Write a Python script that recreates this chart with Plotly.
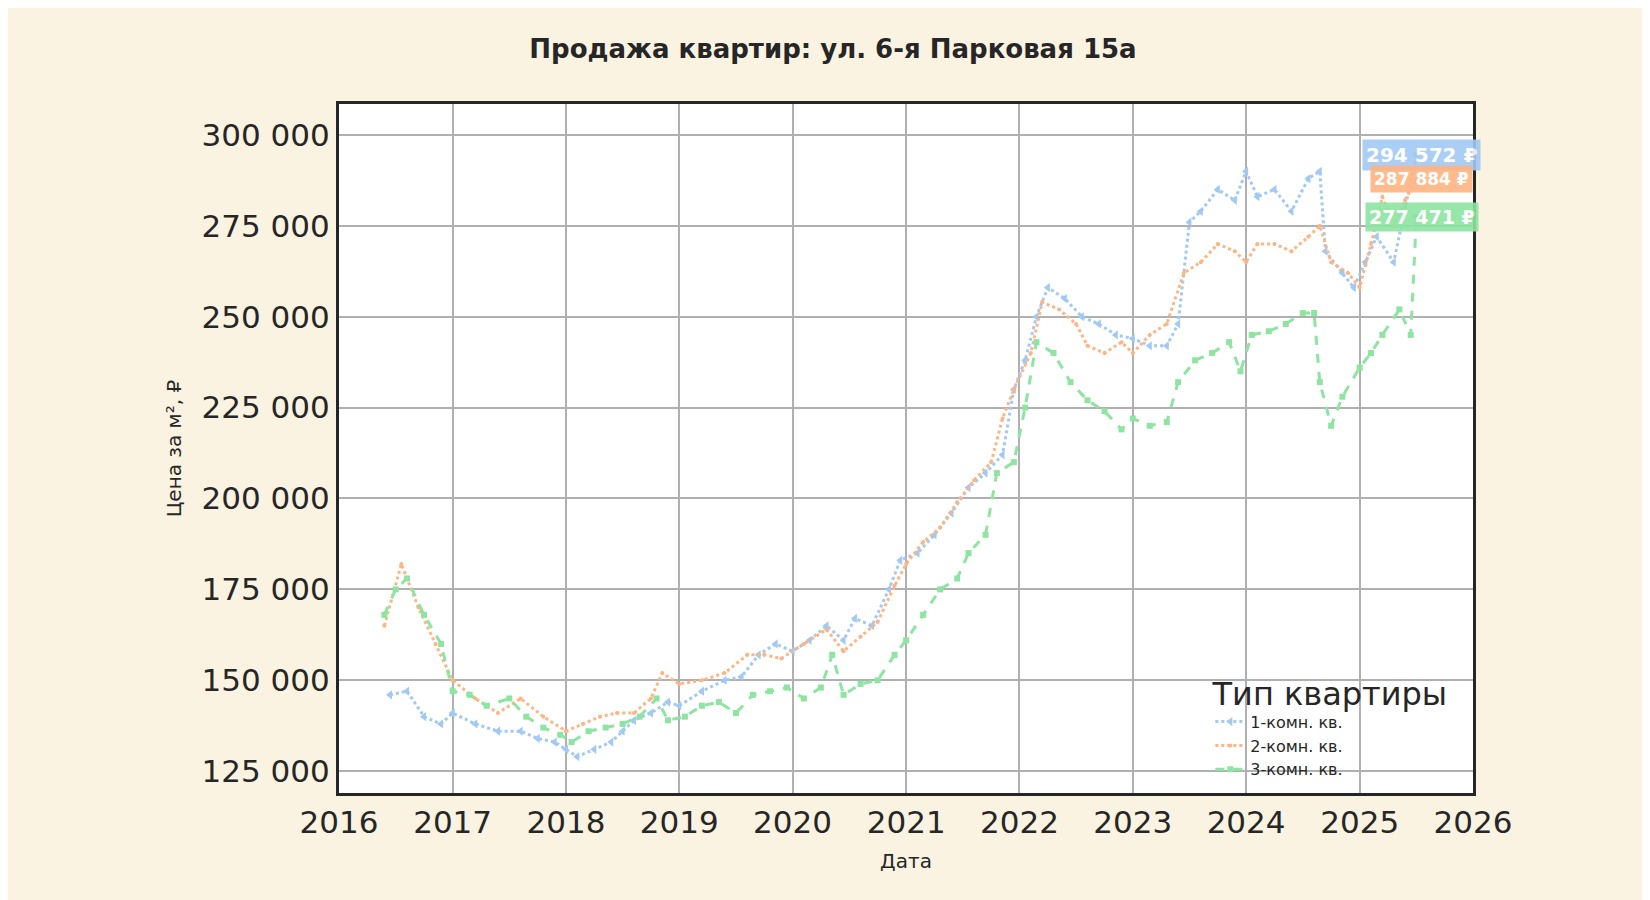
import pandas as pd
import plotly.graph_objects as go

# decimal year -> price per m2 (thousands of rubles)
t1 = [2016.45, 2016.6, 2016.75, 2016.9, 2017.0, 2017.2, 2017.4, 2017.6, 2017.75, 2017.9, 2018.0, 2018.1, 2018.25, 2018.4,
      2018.5, 2018.6, 2018.75, 2018.9, 2019.0, 2019.2, 2019.4, 2019.55, 2019.7, 2019.85, 2020.0, 2020.15, 2020.3, 2020.45,
      2020.55, 2020.7, 2020.85, 2020.95, 2021.1, 2021.25, 2021.4, 2021.55, 2021.7, 2021.85, 2021.95, 2022.05, 2022.15,
      2022.25, 2022.4, 2022.55, 2022.7, 2022.85, 2023.0, 2023.15, 2023.3, 2023.4, 2023.5, 2023.6, 2023.75, 2023.9, 2024.0,
      2024.1, 2024.25, 2024.4, 2024.55, 2024.65, 2024.7, 2024.85, 2024.95, 2025.05, 2025.15, 2025.3, 2025.4, 2025.5]
v1 = [146, 147, 140, 138, 141, 138, 136, 136, 134, 133, 131, 129, 131, 133, 136, 139, 141, 144, 143, 147, 150, 151, 157,
      160, 158, 161, 165, 161, 167, 165, 175, 183, 185, 190, 196, 203, 207, 212, 230, 238, 250, 258, 255, 250, 248, 245,
      244, 242, 242, 248, 276, 279, 285, 282, 290, 283, 285, 279, 288, 290, 268, 262, 258, 265, 272, 265, 280, 294.572]

t2 = [2016.4, 2016.55, 2016.7, 2016.85, 2017.0, 2017.2, 2017.4, 2017.6, 2017.8, 2018.0, 2018.15, 2018.3, 2018.45, 2018.6,
      2018.75, 2018.85, 2019.0, 2019.2, 2019.4, 2019.6, 2019.75, 2019.9, 2020.1, 2020.3, 2020.45, 2020.6, 2020.75, 2020.9,
      2021.0, 2021.15, 2021.3, 2021.45, 2021.6, 2021.75, 2021.85, 2021.95, 2022.1, 2022.2, 2022.35, 2022.5, 2022.6, 2022.75,
      2022.9, 2023.0, 2023.15, 2023.3, 2023.45, 2023.6, 2023.75, 2023.9, 2024.0, 2024.1, 2024.25, 2024.4, 2024.55, 2024.65,
      2024.75, 2024.9, 2025.0, 2025.1, 2025.2, 2025.3, 2025.4, 2025.5]
v2 = [165, 182, 170, 160, 150, 145, 141, 145, 140, 136, 138, 140, 141, 141, 145, 152, 149, 150, 152, 157, 157, 156, 160,
      164, 158, 162, 166, 176, 182, 188, 192, 199, 205, 210, 222, 230, 240, 254, 252, 248, 242, 240, 243, 240, 245, 248,
      262, 265, 270, 268, 265, 270, 270, 268, 272, 275, 265, 262, 258, 270, 283, 275, 282, 287.884]

t3 = [2016.4, 2016.5, 2016.6, 2016.75, 2016.9, 2017.0, 2017.15, 2017.3, 2017.5, 2017.65, 2017.8, 2017.95, 2018.05, 2018.2,
      2018.35, 2018.5, 2018.65, 2018.8, 2018.9, 2019.05, 2019.2, 2019.35, 2019.5, 2019.65, 2019.8, 2019.95, 2020.1, 2020.25,
      2020.35, 2020.45, 2020.6, 2020.75, 2020.9, 2021.0, 2021.15, 2021.3, 2021.45, 2021.55, 2021.7, 2021.8, 2021.95, 2022.05,
      2022.15, 2022.3, 2022.45, 2022.6, 2022.75, 2022.9, 2023.0, 2023.15, 2023.3, 2023.4, 2023.55, 2023.7, 2023.85, 2023.95,
      2024.05, 2024.2, 2024.35, 2024.5, 2024.6, 2024.65, 2024.75, 2024.85, 2025.0, 2025.1, 2025.2, 2025.35, 2025.45, 2025.5]
v3 = [168, 175, 178, 168, 160, 147, 146, 143, 145, 140, 137, 135, 133, 136, 137, 138, 140, 145, 139, 140, 143, 144, 141,
      146, 147, 148, 145, 148, 157, 146, 149, 150, 157, 161, 168, 175, 178, 185, 190, 207, 210, 225, 243, 240, 232, 227,
      224, 219, 222, 220, 221, 232, 238, 240, 243, 235, 245, 246, 248, 251, 251, 232, 220, 228, 236, 240, 245, 252, 245,
      277.471]

names = ["1-комн. кв.", "2-комн. кв.", "3-комн. кв."]
colors = ["#a1c9f4", "#ffb482", "#8de5a1"]
dashes = ["dot", "dot", "dash"]
symbols = ["triangle-left", "circle", "square"]
msizes = [8, 4, 6]


def to_dates(ts):
    return [pd.Timestamp("%d-01-01" % int(t)) + pd.Timedelta(days=(t - int(t)) * 365.25) for t in ts]


fig = go.Figure()
for t, v, n, c, d, s, ms in zip([t1, t2, t3], [v1, v2, v3], names, colors, dashes, symbols, msizes):
    fig.add_trace(go.Scatter(x=to_dates(t), y=[x * 1000 for x in v], name=n, mode="lines+markers",
                             line=dict(color=c, dash=d, width=3), marker=dict(symbol=s, size=ms, color=c)))

label_y = [294572, 287884, 277471]
label_size = [20, 17, 19]
for y, c, fs in zip(label_y, colors, label_size):
    fig.add_annotation(x=0.955, xref="paper", y=y, yref="y", xanchor="center",
                       text=("<b>%s ₽</b>" % format(y, ",").replace(",", " ")), showarrow=False,
                       bgcolor=c, opacity=0.9, font=dict(color="white", size=fs, family="DejaVu Sans"),
                       borderpad=3)

fig.update_layout(
    width=1650, height=900,
    paper_bgcolor="#fbf3e1", plot_bgcolor="white",
    title=dict(text="<b>Продажа квартир: ул. 6-я Парковая 15а</b>", x=0.5, y=0.965,
               font=dict(size=26, color="#262626", family="DejaVu Sans")),
    font=dict(family="DejaVu Sans", color="#262626"),
    margin=dict(l=331, r=185, t=96, b=115),
    legend=dict(title=dict(text="Тип квартиры", font=dict(size=32), side="top center"),
                x=0.98, y=0.01, xanchor="right", yanchor="bottom", bgcolor="rgba(0,0,0,0)",
                font=dict(size=16)),
    xaxis=dict(title=dict(text="Дата", font=dict(size=20)), range=["2016-01-01", "2026-01-01"],
               dtick="M12", tickformat="%Y", tickfont=dict(size=31), showgrid=True, gridcolor="#b0b0b0",
               gridwidth=2, showline=True, linecolor="#262626", linewidth=3, mirror=True, ticks=""),
    yaxis=dict(title=dict(text="Цена за м², ₽", font=dict(size=20)), range=[119000, 308500],
               tickvals=[125000, 150000, 175000, 200000, 225000, 250000, 275000, 300000],
               ticktext=["125 000", "150 000", "175 000", "200 000", "225 000", "250 000", "275 000", "300 000"],
               tickfont=dict(size=31), showgrid=True, gridcolor="#b0b0b0", gridwidth=2,
               showline=True, linecolor="#262626", linewidth=3, mirror=True, ticks=""),
)

fig.write_html("out.html")
